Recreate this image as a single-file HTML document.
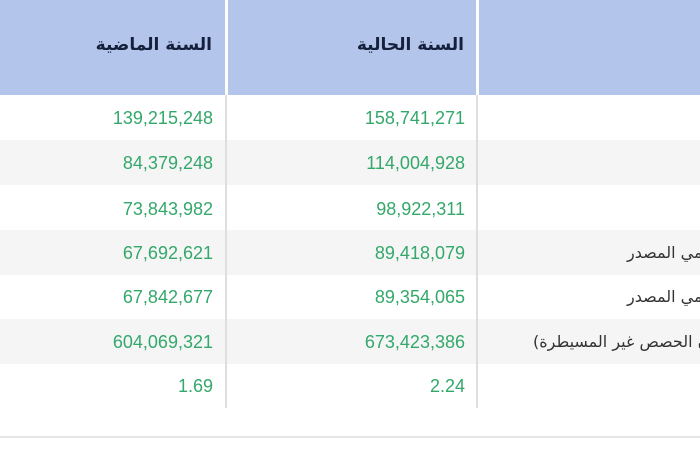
<!DOCTYPE html>
<html><head><meta charset="utf-8"><style>
html,body{margin:0;padding:0;width:700px;height:450px;overflow:hidden;background:#fff;}
body{position:relative;font-family:"DejaVu Sans","Liberation Sans",sans-serif;}
.hdr{position:absolute;left:0;top:0;width:700px;height:95px;background:#b3c5eb;}
.vsep{position:absolute;top:0;width:3px;height:95px;background:#fff;}
.row{position:absolute;left:0;width:700px;height:45px;}
.g{background:#f5f5f5;}
.bsep{position:absolute;top:95px;width:2px;height:313px;background:#dedede;}
.num{position:absolute;font-family:"Liberation Sans",sans-serif;font-size:18px;color:#34a86b;text-align:right;width:200px;line-height:20px;}
.h{position:absolute;font-size:17px;font-weight:bold;color:#15203c;direction:rtl;text-align:right;width:210px;line-height:22px;}
.clip{position:absolute;left:478px;top:0;width:222px;height:450px;overflow:hidden;}
.lbl{position:absolute;font-size:16px;color:#333;direction:rtl;white-space:nowrap;line-height:20px;}
.bot{position:absolute;left:0;top:436px;width:700px;height:2px;background:#e6e6e6;}
</style></head><body>
<div class="hdr"></div>
<div class="vsep" style="left:225px"></div>
<div class="vsep" style="left:476px"></div>
<div class="h" style="left:2px;top:34px">السنة الماضية</div>
<div class="h" style="left:254px;top:34px">السنة الحالية</div>

<div class="row" style="top:95px"></div>
<div class="row g" style="top:140px"></div>
<div class="row" style="top:185px"></div>
<div class="row g" style="top:230px"></div>
<div class="row" style="top:275px"></div>
<div class="row g" style="top:319px"></div>
<div class="row" style="top:364px"></div>
<div class="bsep" style="left:225px"></div>
<div class="bsep" style="left:476px"></div>

<div class="num" style="left:13px;top:108px">139,215,248</div>
<div class="num" style="left:265px;top:108px">158,741,271</div>
<div class="num" style="left:13px;top:153px">84,379,248</div>
<div class="num" style="left:265px;top:153px">114,004,928</div>
<div class="num" style="left:13px;top:199px">73,843,982</div>
<div class="num" style="left:265px;top:199px">98,922,311</div>
<div class="num" style="left:13px;top:243px">67,692,621</div>
<div class="num" style="left:265px;top:243px">89,418,079</div>
<div class="num" style="left:13px;top:287px">67,842,677</div>
<div class="num" style="left:265px;top:287px">89,354,065</div>
<div class="num" style="left:13px;top:332px">604,069,321</div>
<div class="num" style="left:265px;top:332px">673,423,386</div>
<div class="num" style="left:13px;top:376px">1.69</div>
<div class="num" style="left:265px;top:376px">2.24</div>

<div class="clip">
<div class="lbl" style="left:149px;top:243px">صافي الربح العائد لمساهمي المصدر</div>
<div class="lbl" style="left:149px;top:287px">صافي الربح العائد لمساهمي المصدر</div>
<div class="lbl" style="left:55px;top:332px">حقوق المساهمين (بدون الحصص غير المسيطرة)</div>
</div>

<div class="bot"></div>
</body></html>
